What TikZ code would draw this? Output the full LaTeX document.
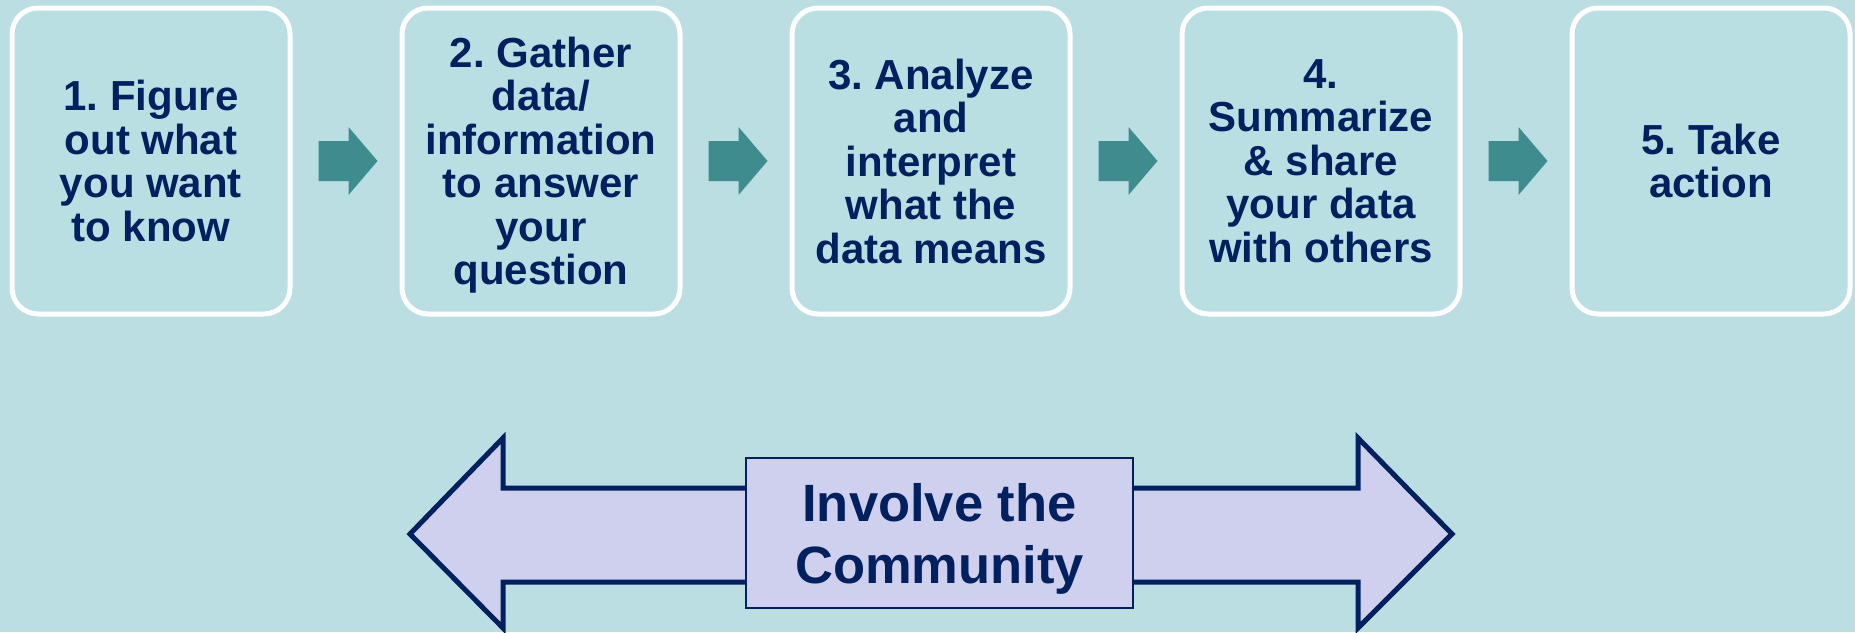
\documentclass[tikz,border=0pt]{standalone}
\usepackage{fontspec}
\setmainfont{Liberation Sans}
\frenchspacing
\usetikzlibrary{calc}
\definecolor{bg}{HTML}{BADEE2}
\definecolor{boxfill}{HTML}{BADFE2}
\definecolor{navy}{HTML}{002060}
\definecolor{teal2}{HTML}{3F8C8F}
\definecolor{lav}{HTML}{CFCFEE}
\tikzset{
  stepbox/.style={draw=white, line width=5pt, fill=boxfill, rounded corners=26pt,
    minimum width=278pt, minimum height=306pt, inner sep=0pt, align=center,
    text depth=0pt, text=navy, font=\bfseries\fontsize{42}{43.5}\selectfont},
  blockarrow/.pic={\fill[teal2] (-29.5,-20) -- (0.5,-20) -- (0.5,-34) -- (29.5,0)
    -- (0.5,34) -- (0.5,20) -- (-29.5,20) -- cycle;},
  commbox/.style={draw=navy, line width=2pt, fill=lav, minimum width=387pt,
    minimum height=150pt, inner sep=0pt, align=center, text depth=0pt, text=navy,
    font=\bfseries\fontsize{52.5}{62}\selectfont},
  dblarrow/.style={draw=navy, line width=5pt, fill=lav, line join=miter}
}
\begin{document}
\begin{tikzpicture}[x=1pt,y=-1pt]
\fill[bg] (0,0) rectangle (1855,632);
\useasboundingbox (0,0) rectangle (1855,632);
\node[stepbox] (b1) at (151,161) {1. Figure\\out what\\you want\\to know};
\node[stepbox] (b2) at (541,161) {2. Gather\\data/\\information\\to answer\\your\\question};
\node[stepbox] (b3) at (931,161) {3. Analyze\\and\\interpret\\what the\\data means};
\node[stepbox] (b4) at (1321,161) {4.\\Summarize\\\& share\\your data\\with others};
\node[stepbox] (b5) at (1711,161) {5. Take\\action};
\foreach \a/\b in {b1/b2,b2/b3,b3/b4,b4/b5}
  \path ($(\a.east)!0.5!(\b.west)+(2,0)$) pic {blockarrow};
\draw[dblarrow] (410,534) -- (503,438) -- (503,488) -- (1358,488) -- (1358,438)
  -- (1452,534) -- (1358,628) -- (1358,582) -- (503,582) -- (503,628) -- cycle;
\node[commbox] (comm) at (939.5,533) {Involve the\\Community};
\end{tikzpicture}
\end{document}
